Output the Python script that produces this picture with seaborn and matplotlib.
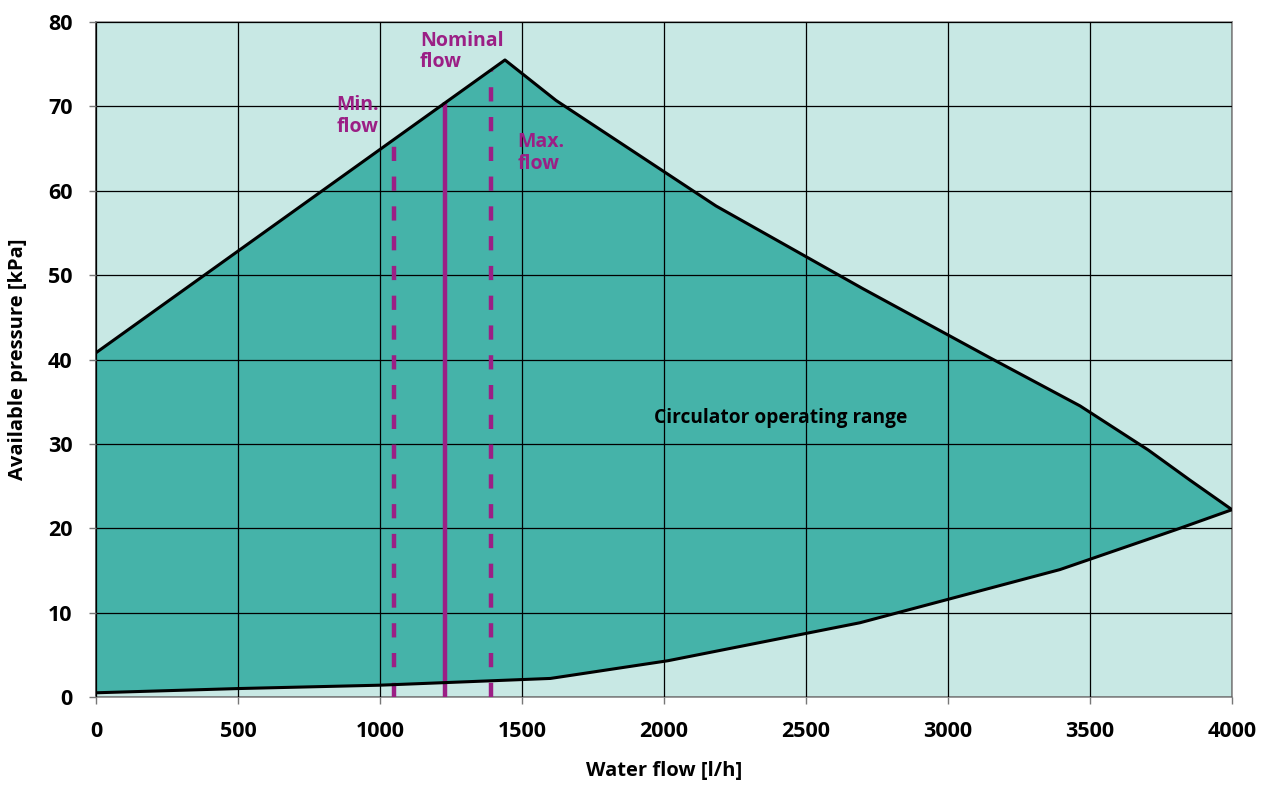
import matplotlib
matplotlib.use("Agg")
import matplotlib.pyplot as plt
import seaborn as sns
import numpy as np
import pandas as pd

# Upper limit of the circulator operating range (flow l/h, available pressure kPa)
upper_flow = [0, 1440, 1620, 2183, 2700, 3148, 3465, 3704, 3852, 4000]
upper_pressure = [40.8, 75.5, 70.7, 58.2, 48.4, 40.2, 34.5, 29.3, 25.7, 22.2]

# Lower limit of the circulator operating range
lower_flow = [0, 500, 1000, 1600, 2014, 2690, 3394, 3800, 4000]
lower_pressure = [0.5, 1.0, 1.4, 2.2, 4.3, 8.8, 15.1, 19.8, 22.2]

# Reference flows: minimum, nominal, maximum
marker_flow = [1050, 1230, 1390]
marker_top = [65.7, 70.5, 74.3]
marker_style = ["dashed", "solid", "dashed"]
marker_labels = ["Min.\nflow", "Nominal\nflow", "Max.\nflow"]

x_ticks = [0, 500, 1000, 1500, 2000, 2500, 3000, 3500, 4000]
y_ticks = [0, 10, 20, 30, 40, 50, 60, 70, 80]

BG = "#C8E8E4"
FILL = "#45B3A9"
PURPLE = "#9B1F85"

sns.set_theme(style="white")
plt.rcParams["font.family"] = ["Open Sans", "DejaVu Sans"]
plt.rcParams["font.weight"] = "bold"
plt.rcParams["text.color"] = "black"
plt.rcParams["axes.labelcolor"] = "black"
plt.rcParams["xtick.labelcolor"] = "black"
plt.rcParams["ytick.labelcolor"] = "black"

fig = plt.figure(figsize=(12.67, 7.87), dpi=100)
ax = fig.add_axes([96 / 1267, 1 - 697 / 787, (1232 - 96) / 1267, (697 - 22) / 787])
ax.set_facecolor(BG)

# Filled operating envelope
poly_x = upper_flow + lower_flow[::-1]
poly_y = upper_pressure + lower_pressure[::-1]
ax.fill(poly_x, poly_y, color=FILL, zorder=1, lw=0)

ax.grid(True, color="black", linewidth=0.9, zorder=2)
ax.set_axisbelow(False)

upper_df = pd.DataFrame({"flow": upper_flow, "pressure": upper_pressure})
lower_df = pd.DataFrame({"flow": lower_flow, "pressure": lower_pressure})
sns.lineplot(data=upper_df, x="flow", y="pressure", ax=ax, color="black",
             linewidth=2.2, sort=False, estimator=None, zorder=4)
sns.lineplot(data=lower_df, x="flow", y="pressure", ax=ax, color="black",
             linewidth=2.2, sort=False, estimator=None, zorder=4)

# Min / nominal / max flow markers
for fx, top, style in zip(marker_flow, marker_top, marker_style):
    if style == "dashed":
        ax.plot([fx, fx], [0, top], color=PURPLE, linewidth=3.2,
                linestyle=(0, (3.2, 3.5)), zorder=3, solid_capstyle="butt")
    else:
        ax.plot([fx, fx], [0, top], color=PURPLE, linewidth=3.2, zorder=3,
                solid_capstyle="butt")

label_pos = [(995, 68.9, "right"), (1140, 76.5, "left"), (1485, 64.5, "left")]
for (lx, ly, ha), text in zip(label_pos, marker_labels):
    ax.text(lx, ly, text, color=PURPLE, fontsize=14, fontweight="bold",
            ha=ha, va="center", linespacing=1.12, zorder=5)

ax.text(2410, 33.1, "Circulator operating range", color="black", fontsize=13.8,
        fontweight="bold", ha="center", va="center", zorder=5)

ax.set_xlim(0, 4000)
ax.set_ylim(0, 80)
ax.set_xticks(x_ticks)
ax.set_yticks(y_ticks)
ax.set_xticklabels([str(v) for v in x_ticks], fontsize=15.5, fontweight="bold")
ax.set_yticklabels([str(v) for v in y_ticks], fontsize=15.5, fontweight="bold")
ax.tick_params(axis="both", which="both", length=5, width=1, color="#777777",
               direction="out", bottom=True, left=True)
ax.tick_params(axis="x", pad=12)
ax.tick_params(axis="y", pad=12)

for side in ["top", "right", "bottom"]:
    ax.spines[side].set_color("#888888")
    ax.spines[side].set_linewidth(1.2)
ax.spines["left"].set_color("#333333")
ax.spines["left"].set_linewidth(1.2)

ax.set_xlabel("Water flow [l/h]", fontsize=14.5, fontweight="bold", labelpad=14)
ax.set_ylabel("Available pressure [kPa]", fontsize=14.5, fontweight="bold", labelpad=14)

fig.savefig("out.png", dpi=100)
